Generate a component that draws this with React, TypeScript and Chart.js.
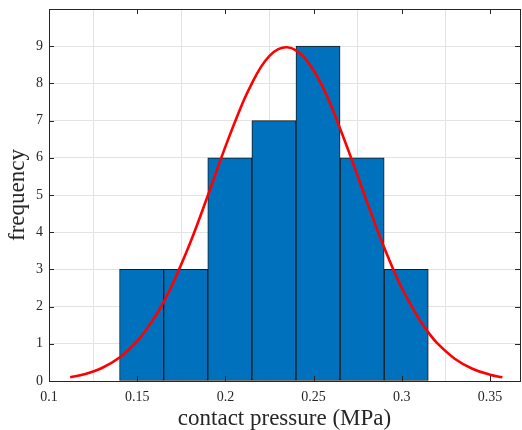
import React, { useEffect, useRef } from 'react';
import { Chart, registerables } from 'chart.js';
Chart.register(...registerables);

const binCenters = [0.1525, 0.1775, 0.2025, 0.2275, 0.2525, 0.2775, 0.3025];
const binCounts = [3, 3, 6, 7, 9, 6, 3];
const fitX = [0.112, 0.12, 0.13, 0.14, 0.15, 0.16, 0.165, 0.17, 0.18, 0.19, 0.2, 0.21, 0.215, 0.22, 0.225, 0.23, 0.235, 0.24, 0.245, 0.25, 0.255, 0.26, 0.27, 0.28, 0.29, 0.3, 0.31, 0.315, 0.32, 0.33, 0.34, 0.35, 0.357];
const fitY = [0.1, 0.18, 0.35, 0.63, 1.07, 1.72, 2.13, 2.6, 3.71, 4.98, 6.3, 7.5, 8.0, 8.43, 8.74, 8.92, 8.97, 8.89, 8.68, 8.35, 7.92, 7.39, 6.16, 4.85, 3.59, 2.5, 1.65, 1.31, 1.02, 0.6, 0.33, 0.17, 0.1];
const xTicks = [0.1, 0.15, 0.2, 0.25, 0.3, 0.35];
const xTickLabels = ['0.1', '0.15', '0.2', '0.25', '0.3', '0.35'];
const yTicks = [0, 1, 2, 3, 4, 5, 6, 7, 8, 9];
const xTitle = 'contact pressure (MPa)';
const yTitle = 'frequency';

const SERIF = '"Liberation Serif", "Times New Roman", serif';

const framePlugin = {
  id: 'frame',
  afterDatasetsDraw(chart: any) {
    const { ctx, chartArea: a, scales } = chart;
    const x = scales.x;
    const y = scales.y;
    ctx.save();
    ctx.strokeStyle = '#262626';
    ctx.lineWidth = 1;
    ctx.beginPath();
    for (const v of xTicks) {
      const px = Math.round(x.getPixelForValue(v)) + 0.5;
      ctx.moveTo(px, a.bottom);
      ctx.lineTo(px, a.bottom - 5);
      ctx.moveTo(px, a.top);
      ctx.lineTo(px, a.top + 5);
    }
    for (const v of yTicks) {
      const py = Math.round(y.getPixelForValue(v)) + 0.5;
      ctx.moveTo(a.left, py);
      ctx.lineTo(a.left + 5, py);
      ctx.moveTo(a.right, py);
      ctx.lineTo(a.right - 5, py);
    }
    ctx.stroke();
    ctx.strokeRect(Math.round(a.left) + 0.5, Math.round(a.top) + 0.5, Math.round(a.right - a.left), Math.round(a.bottom - a.top));
    ctx.restore();
  },
};

export default function App() {
  const ref = useRef<HTMLCanvasElement | null>(null);
  useEffect(() => {
    document.body.style.margin = '0';
    const canvas = ref.current;
    if (!canvas) return;
    const chart = new Chart(canvas, {
      type: 'bar',
      data: {
        datasets: [
          {
            type: 'line',
            data: fitX.map((v, i) => ({ x: v, y: fitY[i] })),
            borderColor: '#ff0000',
            borderWidth: 2.6,
            pointRadius: 0,
            tension: 0.4,
            fill: false,
            order: 0,
          } as any,
          {
            type: 'bar',
            data: binCenters.map((v, i) => ({ x: v, y: binCounts[i] })),
            backgroundColor: '#0072BD',
            borderColor: '#1a1a1a',
            borderWidth: 1,
            borderSkipped: false,
            barPercentage: 1,
            categoryPercentage: 1,
            order: 1,
          } as any,
        ],
      },
      options: {
        animation: false,
        responsive: false,
        layout: { padding: { top: 9, right: 2, left: 0, bottom: 0 } },
        plugins: { legend: { display: false }, tooltip: { enabled: false } },
        scales: {
          x: {
            type: 'linear',
            min: 0.1,
            max: 0.367,
            offset: false,
            afterBuildTicks: (s: any) => {
              s.ticks = xTicks.map((v) => ({ value: v }));
            },
            afterFit: (s: any) => {
              s.height = 49;
              s.paddingLeft = 0;
              s.paddingRight = 0;
            },
            ticks: {
              autoSkip: false,
              maxRotation: 0,
              padding: 8,
              color: '#262626',
              font: { family: SERIF, size: 14 },
              callback: (v: any) => {
                const i = xTicks.findIndex((t) => Math.abs(t - v) < 1e-9);
                return i >= 0 ? xTickLabels[i] : '';
              },
            },
            grid: { color: '#e3e3e3', drawTicks: false, lineWidth: 1 },
            border: { display: false },
            title: {
              display: true,
              text: xTitle,
              color: '#262626',
              font: { family: SERIF, size: 23, lineHeight: 1 },
              padding: { top: 0, bottom: 0 },
            },
          },
          y: {
            type: 'linear',
            min: 0,
            max: 10,
            afterBuildTicks: (s: any) => {
              s.ticks = yTicks.map((v) => ({ value: v }));
            },
            afterFit: (s: any) => {
              s.width = 49;
              s.paddingTop = 0;
              s.paddingBottom = 0;
            },
            ticks: {
              padding: 6,
              color: '#262626',
              font: { family: SERIF, size: 14 },
              callback: (v: any) => String(v),
            },
            grid: { color: '#e3e3e3', drawTicks: false, lineWidth: 1 },
            border: { display: false },
            title: {
              display: true,
              text: yTitle,
              color: '#262626',
              font: { family: SERIF, size: 23 },
              padding: { top: 4, bottom: 0 },
            },
          },
        },
      },
      plugins: [framePlugin],
    } as any);
    return () => chart.destroy();
  }, []);
  return (
    <div style={{ width: 522, height: 430 }}>
      <canvas ref={ref} width={522} height={430} style={{ display: 'block' }} />
    </div>
  );
}
